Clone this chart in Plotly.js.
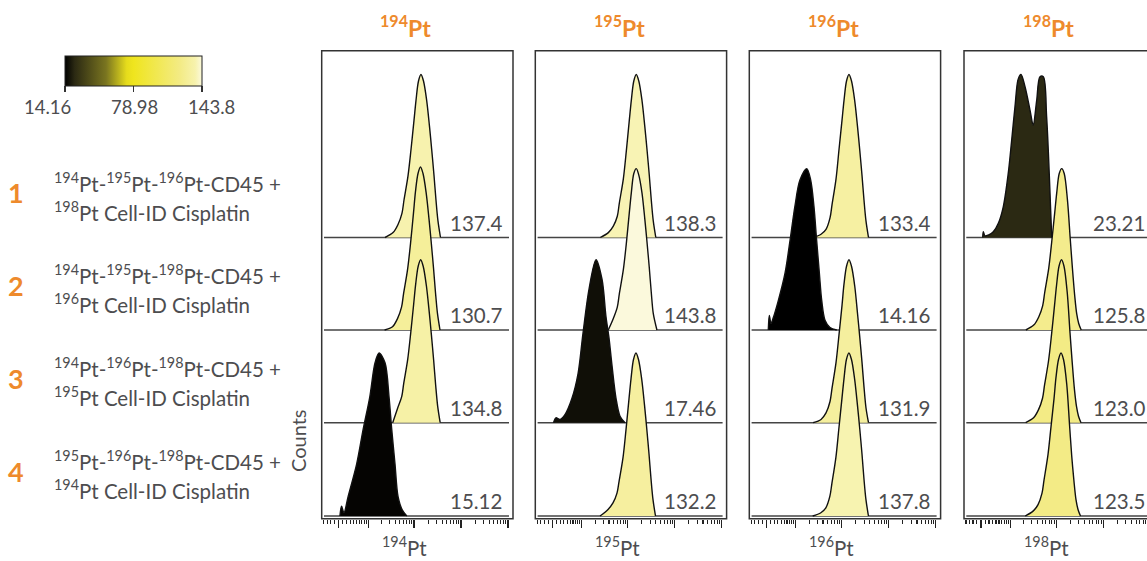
<!DOCTYPE html>
<html><head><meta charset="utf-8">
<script src="https://cdn.plot.ly/plotly-3.0.1.min.js"></script>
<style>html,body{margin:0;padding:0;background:#fff}#chart{width:1147px;height:561px}</style>
</head><body><div id="chart"></div>
<script>
// ---------------- DATA (intensity values, % of max counts) ----------------
const isotopes = ['194', '195', '196', '198'];

// 194Pt channel
const pt194_r1_x = [24, 35.6, 45.5, 55.4, 61.1, 74.5, 86.2, 99.9, 110, 124.5, 140.6, 159, 186, 213.5, 237.5, 266, 293, 323.5, 365.5];
const pt194_r1_y = [0, 3, 8, 15, 23, 38, 54, 72, 84, 96, 100, 96, 84, 68, 54, 38, 23, 10, 0];
const pt194_r2_x = [23.4, 34.7, 44.4, 54.1, 59.6, 72.7, 84.1, 97.5, 107.4, 121.5, 137.2, 155.2, 181.5, 208.4, 231.8, 259.6, 286, 315.7, 356.7];
const pt194_r2_y = [0, 2, 7, 14, 22, 37, 53, 72, 85, 96, 100, 96, 84, 68, 54, 38, 23, 10, 0];
const pt194_r3_x = [35, 44.8, 54.6, 60.2, 73.4, 84.9, 98.4, 108.4, 122.6, 138.5, 156.6, 183.2, 210.3, 233.9, 262, 288.6, 318.6, 360];
const pt194_r3_y = [0, 9, 16, 24, 39, 55, 73, 85, 96, 100, 96, 84, 68, 54, 38, 23, 10, 0];
const pt194_r4_x = [0.3, 0.7, 1.3, 2.4, 5.0, 7.5, 10.9, 14.4, 17.7, 23.9, 29.2, 33.4, 39.2, 45.5, 55.5, 70];
const pt194_r4_y = [0, 6, 2, 12, 32, 53, 73, 94, 100, 94, 73, 53, 32, 12, 4, 0];

// 195Pt channel
const pt195_r1_x = [26.1, 38.7, 49.5, 60.2, 66.4, 81, 93.7, 108.6, 119.6, 135.3, 152.8, 172.8, 202.2, 232.1, 258.2, 289.1, 318.5, 351.6, 397.3];
const pt195_r1_y = [0, 3, 7, 13, 21, 36, 53, 72, 84, 96, 100, 96, 84, 68, 54, 38, 23, 10, 0];
const pt195_r2_x = [38.7, 49.5, 60.2, 66.4, 81, 93.7, 108.6, 119.6, 135.3, 152.8, 172.8, 202.2, 232.1, 258.2, 289.1, 318.5, 351.6, 420];
const pt195_r2_y = [0, 7, 14, 22, 37, 53, 72, 84, 96, 99, 95, 84, 68, 54, 38, 23, 10, 0];
const pt195_r3_x = [0.3, 0.9, 1.9, 3.3, 5.6, 8.1, 10.7, 14.7, 21, 28.3, 34.5, 40, 46.4, 56.5, 68.8, 88];
const pt195_r3_y = [0, 3, 2, 5, 15, 30, 55, 82, 100, 88, 65, 52, 35, 15, 4, 0];
const pt195_r4_x = [25.7, 38.1, 48.7, 59.3, 65.4, 79.8, 92.3, 107, 117.8, 133.3, 150.6, 170.3, 199.2, 228.7, 254.4, 284.9, 313.8, 346.5, 391.5];
const pt195_r4_y = [0, 4, 8, 14, 21, 36, 53, 72, 84, 96, 100, 96, 84, 68, 54, 38, 23, 10, 0];

// 196Pt channel
const pt196_r1_x = [24.5, 36.3, 46.4, 56.5, 62.3, 76, 87.9, 101.9, 112.2, 127, 143.4, 162.2, 189.7, 217.8, 242.3, 271.3, 298.9, 330, 372.8];
const pt196_r1_y = [0, 2, 5, 12, 20, 36, 54, 72, 84, 96, 100, 96, 84, 68, 54, 38, 23, 10, 0];
const pt196_r2_x = [0.49, 0.74, 1.16, 1.67, 3.11, 5.27, 7.22, 9.55, 12.5, 17.8, 21.7, 25.5, 29.2, 33.4, 37.6, 44.2, 56.5, 78.6];
const pt196_r2_y = [0, 9, 4, 7, 18, 35, 55, 76, 92, 99, 92, 76, 55, 35, 18, 6, 1.5, 0];
const pt196_r3_x = [24.5, 36.3, 46.4, 56.5, 62.3, 76, 87.9, 101.9, 112.2, 127, 143.4, 162.2, 189.7, 217.8, 242.3, 271.3, 298.9, 330, 372.8];
const pt196_r3_y = [0, 2, 6, 13, 21, 37, 54, 72, 85, 96, 100, 96, 84, 67, 53, 37, 22, 9, 0];
const pt196_r4_x = [24, 36, 46, 56, 62, 75.5, 87.5, 101.5, 112, 126.5, 143, 162, 189, 217, 242, 271, 298, 329, 372];
const pt196_r4_y = [0, 2, 5, 12, 20, 36, 54, 72, 84, 96, 100, 96, 84, 68, 54, 38, 23, 10, 0];

// 198Pt channel
const pt198_r1_x = [0.42, 0.57, 0.99, 1.82, 3.2, 4.77, 6.62, 8.8, 10.7, 12.7, 15.0, 17.4, 21.3, 27.4, 32.0, 38.0, 44.8, 52.8, 62.1, 70.7, 79.7];
const pt198_r1_y = [0, 3.5, 1, 1.5, 3.5, 8.7, 19, 39, 60, 80, 97, 100, 92.5, 78, 69, 84, 98.6, 98.6, 74, 39, 0];
const pt198_r2_x = [22.2, 32.9, 42.1, 51.2, 56.5, 68.9, 79.7, 92.4, 101.8, 115.2, 130.1, 147.1, 172.1, 197.5, 219.7, 246.1, 271, 299.2, 338.1];
const pt198_r2_y = [0, 3, 8, 15, 23, 38, 54, 72, 84, 96, 99, 96, 80, 56, 38, 21, 10, 4, 0];
const pt198_r3_x = [22, 32.6, 41.7, 50.7, 56, 68.2, 79, 91.5, 100.8, 114, 128.8, 145.6, 170.4, 195.6, 217.6, 243.7, 268.4, 296.3, 334.8];
const pt198_r3_y = [0, 3, 8, 15, 23, 38, 54, 72, 84, 96, 100, 96, 80, 55, 37, 20, 10, 4, 0];
const pt198_r4_x = [21.5, 31.8, 40.7, 49.5, 54.6, 66.6, 77.1, 89.3, 98.3, 111.3, 125.7, 142.1, 166.3, 190.9, 212.3, 237.8, 261.9, 289.2, 326.8];
const pt198_r4_y = [0, 3, 7, 14, 22, 38, 55, 72, 85, 96, 100, 96, 81, 56, 37, 21, 10, 4, 0];

// median intensities shown at the right of each histogram (rows 1-4)
const medians194 = [137.4, 130.7, 134.8, 15.12];
const medians195 = [138.3, 143.8, 17.46, 132.2];
const medians196 = [133.4, 14.16, 131.9, 137.8];
const medians198 = [23.21, 125.8, 123.0, 123.5];

const rowNumbers = ['1', '2', '3', '4'];
const rowLine1 = [
  '<sup>194</sup>Pt-<sup>195</sup>Pt-<sup>196</sup>Pt-CD45 +',
  '<sup>194</sup>Pt-<sup>195</sup>Pt-<sup>198</sup>Pt-CD45 +',
  '<sup>194</sup>Pt-<sup>196</sup>Pt-<sup>198</sup>Pt-CD45 +',
  '<sup>195</sup>Pt-<sup>196</sup>Pt-<sup>198</sup>Pt-CD45 +'
];
const rowLine2 = [
  '<sup>198</sup>Pt Cell-ID Cisplatin',
  '<sup>196</sup>Pt Cell-ID Cisplatin',
  '<sup>195</sup>Pt Cell-ID Cisplatin',
  '<sup>194</sup>Pt Cell-ID Cisplatin'
];
const yAxisLabel = 'Counts';

const colorbarTicks = [14.16, 78.98, 143.8];
const colorStops = [[0, '#000000'], [0.07, '#2b2913'], [0.3, '#7a7520'], [0.45, '#e6dc1c'],
  [0.5, '#efe51e'], [0.84, '#f3eb85'], [0.95, '#f7f2ad'], [1, '#fbf9dc']];

const majorTicks = [0, 10, 100, 1000, 10000];
const minorTicks = [-4, -3, -2, -1, 1, 2, 3, 4, 5, 6, 7, 8, 9,
  20, 30, 40, 50, 60, 70, 80, 90, 200, 300, 400, 500, 600, 700, 800, 900,
  2000, 3000, 4000, 5000, 6000, 7000, 8000, 9000, 20000];

// ---------------- LAYOUT GEOMETRY ----------------
const W = 1147, H = 561;
const panelLeft = [321.7, 535.3, 749.3, 964];
const panelW = 191.3;
const baselines = [237.5, 330, 422.7, 516];
const boxTop = 50.7, boxBottom = 518.7;
const zeroOffsetPx = 17, pxPerUnit = 20.42, cofactor = 5;
const peakPx = 163; // height of 100% in pixels
const yMin = -2, yMax = 102;
const ORANGE = '#ee8a2c', GREY = '#4d4d4f';
const FONT = 'Lato, "Open Sans", Roboto, sans-serif';

const asinhScale = v => Math.asinh(v / cofactor);
const py = px => (H - px) / H;

function hexToRgb(h) { return [parseInt(h.slice(1,3),16), parseInt(h.slice(3,5),16), parseInt(h.slice(5,7),16)]; }
function colorAt(v) {
  const t = Math.max(0, Math.min(1, (v - colorbarTicks[0]) / (colorbarTicks[2] - colorbarTicks[0])));
  for (let i = 1; i < colorStops.length; i++) {
    if (t <= colorStops[i][0]) {
      const a = colorStops[i-1], b = colorStops[i];
      const f = (t - a[0]) / (b[0] - a[0]);
      const ca = hexToRgb(a[1]), cb = hexToRgb(b[1]);
      return 'rgb(' + ca.map((c, k) => Math.round(c + (cb[k] - c) * f)).join(',') + ')';
    }
  }
  return colorStops[colorStops.length-1][1];
}

const histX = [
  [pt194_r1_x, pt194_r2_x, pt194_r3_x, pt194_r4_x],
  [pt195_r1_x, pt195_r2_x, pt195_r3_x, pt195_r4_x],
  [pt196_r1_x, pt196_r2_x, pt196_r3_x, pt196_r4_x],
  [pt198_r1_x, pt198_r2_x, pt198_r3_x, pt198_r4_x]
];
const histY = [
  [pt194_r1_y, pt194_r2_y, pt194_r3_y, pt194_r4_y],
  [pt195_r1_y, pt195_r2_y, pt195_r3_y, pt195_r4_y],
  [pt196_r1_y, pt196_r2_y, pt196_r3_y, pt196_r4_y],
  [pt198_r1_y, pt198_r2_y, pt198_r3_y, pt198_r4_y]
];
const medians = [medians194, medians195, medians196, medians198];

const traces = [];
const layout = {
  width: W, height: H,
  margin: {l: 0, r: 0, t: 0, b: 0},
  paper_bgcolor: '#ffffff', plot_bgcolor: 'rgba(0,0,0,0)',
  showlegend: false,
  font: {family: FONT, color: GREY},
  shapes: [], annotations: []
};

// dummy trace holding the colour bar
traces.push({
  type: 'scatter', mode: 'markers', x: [null], y: [null], xaxis: 'x', yaxis: 'y',
  hoverinfo: 'skip', showlegend: false,
  marker: {
    color: [colorbarTicks[0], colorbarTicks[2]], cmin: colorbarTicks[0], cmax: colorbarTicks[2],
    colorscale: colorStops, showscale: true,
    colorbar: {
      orientation: 'h', x: 65 / W, xanchor: 'left', y: py(55.7), yanchor: 'top',
      len: 137, lenmode: 'pixels', thickness: 30, thicknessmode: 'pixels',
      xpad: 0, ypad: 0, outlinewidth: 1, outlinecolor: '#222', borderwidth: 0,
      tickmode: 'array', tickvals: colorbarTicks,
      ticks: 'outside', ticklen: 6, tickwidth: 1.2, tickcolor: '#333', showticklabels: false
    }
  }
});

for (let p = 0; p < 4; p++) {
  const xId = p === 0 ? 'x' : 'x' + (p + 1);
  const xKey = 'xaxis' + (p === 0 ? '' : p + 1);
  const wPx = Math.min(panelW, W - panelLeft[p]);
  const r0 = -zeroOffsetPx / pxPerUnit;
  layout[xKey] = {
    domain: [panelLeft[p] / W, (panelLeft[p] + wPx) / W],
    range: [r0, r0 + wPx / pxPerUnit],
    anchor: 'free', position: py(boxBottom),
    showline: false, showgrid: false, zeroline: false, fixedrange: true,
    tickmode: 'array', tickvals: majorTicks.map(asinhScale),
    showticklabels: false, ticks: 'outside', ticklen: 8, tickwidth: 1.3, tickcolor: '#222',
    minor: {tickmode: 'array', tickvals: minorTicks.map(asinhScale), ticks: 'outside',
            ticklen: 4.5, tickwidth: 1.1, tickcolor: '#222', showgrid: false}
  };
  const dom = xId + ' domain';
  // frame
  layout.shapes.push({type: 'rect', xref: dom, yref: 'paper', x0: 0, x1: panelW / wPx,
    y0: py(boxBottom), y1: py(boxTop), line: {color: '#333', width: 1.5}, layer: 'above'});
  // top title
  layout.annotations.push({xref: dom, yref: 'paper', x: 84 / wPx, y: py(27), xanchor: 'center', yanchor: 'middle',
    text: '<sup>' + isotopes[p] + '</sup>Pt', showarrow: false,
    font: {family: FONT, size: 23, color: ORANGE, weight: 700}});
  // bottom title
  layout.annotations.push({xref: dom, yref: 'paper', x: 82.5 / wPx, y: py(546), xanchor: 'center', yanchor: 'middle',
    text: '<sup>' + isotopes[p] + '</sup>Pt', showarrow: false,
    font: {family: FONT, size: 20.5, color: GREY}});

  for (let r = 0; r < 4; r++) {
    const n = p * 4 + r + 1;
    const yId = n === 1 ? 'y' : 'y' + n;
    const yKey = 'yaxis' + (n === 1 ? '' : n);
    const b = baselines[r];
    const pxU = peakPx / 100;
    layout[yKey] = {
      domain: [py(b - yMin * pxU), py(b - yMax * pxU)],
      range: [yMin, yMax], anchor: xId, visible: false, fixedrange: true
    };
    const med = medians[p][r];
    traces.push({
      type: 'scatter', mode: 'lines', xaxis: xId, yaxis: yId,
      x: histX[p][r].map(asinhScale), y: histY[p][r],
      fill: 'tozeroy', fillcolor: colorAt(med),
      line: {color: '#111', width: 1.4, shape: 'spline', smoothing: 0.9},
      hoverinfo: 'skip', showlegend: false
    });
    // baseline
    layout.shapes.push({type: 'line', xref: dom, yref: yId, x0: 2.3 / wPx, x1: 187.3 / wPx,
      y0: 0, y1: 0, line: {color: '#444', width: 1.5}, layer: 'below'});
    // median label
    layout.annotations.push({xref: dom, yref: 'paper', x: 126.8 / wPx, y: py(b - 15), xanchor: 'left', yanchor: 'middle',
      text: med.toPrecision(4), showarrow: false, font: {family: FONT, size: 20.5, color: GREY}});
  }
}

// row labels
for (let r = 0; r < 4; r++) {
  const dy = 92.7 * r;
  layout.annotations.push({xref: 'paper', yref: 'paper', x: 16 / W, y: py(193 + dy), xanchor: 'center', yanchor: 'middle',
    text: rowNumbers[r], showarrow: false, font: {family: FONT, size: 27, color: ORANGE, weight: 700}});
  layout.annotations.push({xref: 'paper', yref: 'paper', x: 52 / W, y: py(182 + dy), xanchor: 'left', yanchor: 'middle',
    text: rowLine1[r], showarrow: false, font: {family: FONT, size: 20.5, color: GREY}});
  layout.annotations.push({xref: 'paper', yref: 'paper', x: 52 / W, y: py(211 + dy), xanchor: 'left', yanchor: 'middle',
    text: rowLine2[r], showarrow: false, font: {family: FONT, size: 20.5, color: GREY}});
}
// colour bar labels
const cbLabelX = [47.7, 134.7, 211.7];
colorbarTicks.forEach((v, i) => {
  layout.annotations.push({xref: 'paper', yref: 'paper', x: cbLabelX[i] / W, y: py(107), xanchor: 'center', yanchor: 'middle',
    text: v.toPrecision(4), showarrow: false, font: {family: FONT, size: 18.5, color: GREY}});
});
// y axis label
layout.annotations.push({xref: 'paper', yref: 'paper', x: 298 / W, y: py(441), xanchor: 'center', yanchor: 'middle',
  text: yAxisLabel, textangle: -90, showarrow: false, font: {family: FONT, size: 20, color: GREY}});

Plotly.newPlot('chart', traces, layout, {staticPlot: true, displayModeBar: false});
</script></body></html>
